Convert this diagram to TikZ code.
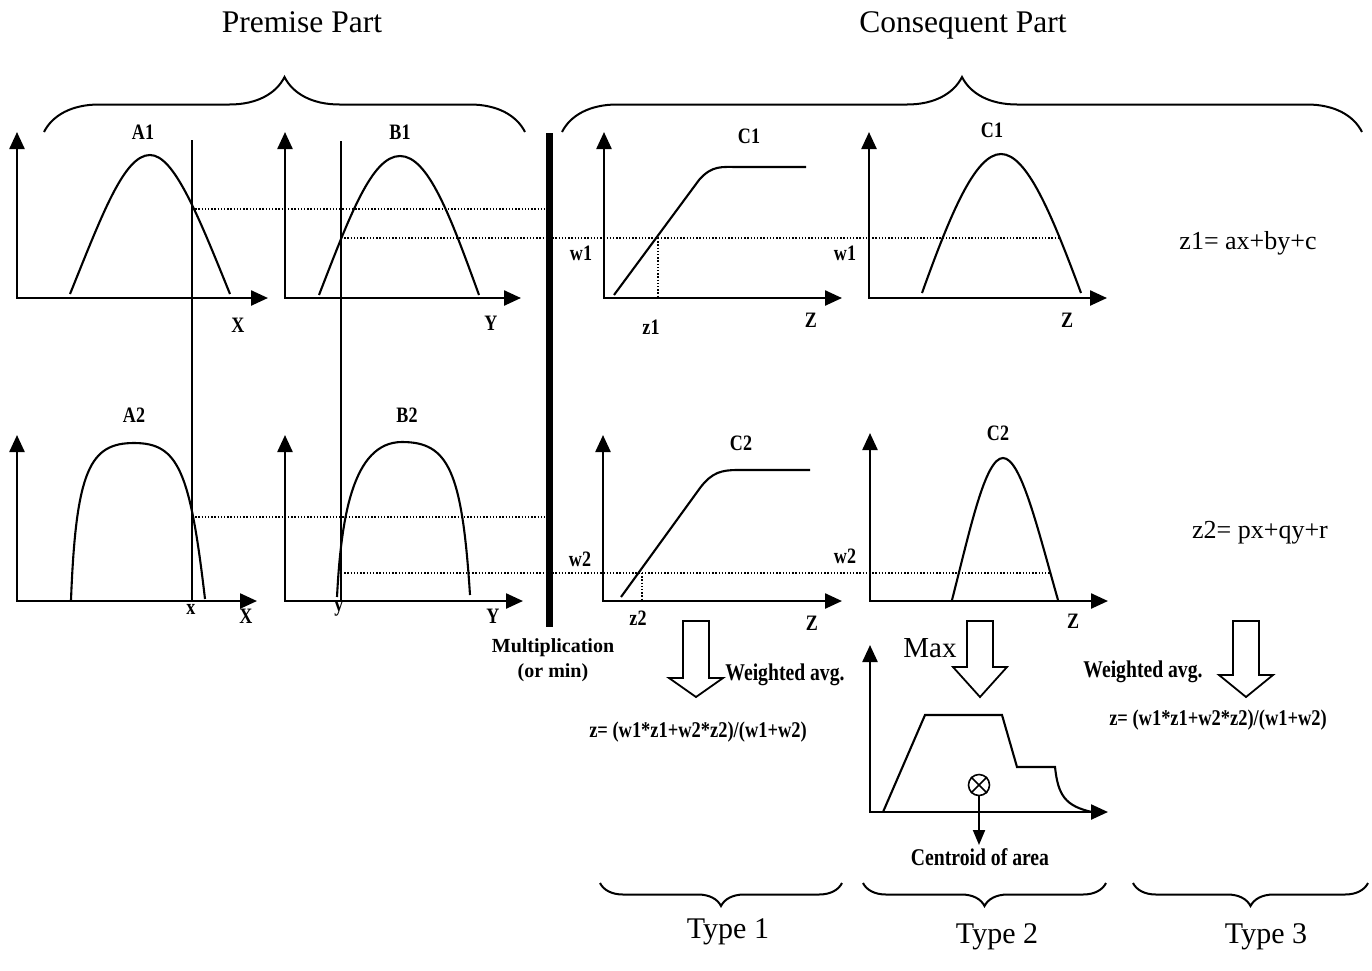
\documentclass[tikz,border=0pt]{standalone}
\usepackage{fontspec}
\setmainfont{Liberation Serif}
\newfontfamily\narrowfont{Liberation Serif}[FakeStretch=0.82]
\usetikzlibrary{arrows.meta,decorations.pathreplacing}

\tikzset{
  axes/.style={line width=2.4pt,
    {Triangle[length=17pt,width=15pt]}-{Triangle[length=17pt,width=15pt]}},
  mf/.style={line width=2.1pt},
  cutline/.style={line width=2pt},
  levelline/.style={line width=1.3pt, dash pattern=on 1.3pt off 1.9pt},
  curly/.style={line width=2pt, decorate, decoration={brace, amplitude=#1}},
  hollow/.style={line width=1.8pt, line join=miter},
  lbl/.style={font=\narrowfont\fontsize{22}{24}\selectfont\bfseries},
  axlbl/.style={font=\narrowfont\fontsize{22}{24}\selectfont\bfseries},
  heading/.style={font=\fontsize{31.5}{36}\selectfont, anchor=base},
  note/.style={font=\narrowfont\fontsize{24}{26}\selectfont\bfseries},
  formula/.style={font=\narrowfont\fontsize{22.5}{26}\selectfont\bfseries},
  eqn/.style={font=\fontsize{26}{30}\selectfont},
  kind/.style={font=\fontsize{30}{34}\selectfont, anchor=base},
}

\begin{document}
\begin{tikzpicture}[x=1pt,y=-1pt]
  \useasboundingbox (0,0) rectangle (1372,970);

  % axes of the panels: origin x / origin y / x tip / y tip
  \foreach \ox/\oy/\xt/\yt in {17/298/268/132, 285/298/521/132, 604/298/842/132,
      869/298/1107/132, 17/601/257/435, 285/601/523/435, 603/601/842/435,
      870/601/1108/433, 870/812/1108/645}
    \draw[axes] (\ox,\yt) -- (\ox,\oy) -- (\xt,\oy);

  % premise membership functions
  \draw[mf] (70,294) .. controls (102,215) and (124,155) .. (150,155)
    .. controls (174,155) and (198,215) .. (230,294);
  \draw[mf] (319,295) .. controls (350,215) and (372,156) .. (400,156)
    .. controls (428,156) and (450,215) .. (479,295);
  \draw[mf] (71,600) .. controls (76,470) and (90,443) .. (134,443)
    .. controls (178,443) and (190,470) .. (205,599);
  \draw[mf] (337,597) .. controls (341,520) and (352,442) .. (402,442)
    .. controls (448,442) and (462,470) .. (470,595);

  % consequent membership functions
  \draw[mf] (614,295) -- (699,180) .. controls (712,165) and (722,167) .. (738,167) -- (806,167);
  \draw[mf] (621,597) -- (700,488) .. controls (712,472) and (722,470) .. (738,470) -- (810,470);
  \draw[mf] (922,293) .. controls (950,215) and (975,154) .. (1001,154)
    .. controls (1027,154) and (1052,215) .. (1081,293);
  \draw[mf] (952,600) .. controls (970,530) and (985,458) .. (1003,458)
    .. controls (1021,458) and (1038,530) .. (1058,600);

  % aggregated output
  \draw[mf] (883,812) -- (925,715) -- (1002,715) -- (1017,767) -- (1055,767)
    .. controls (1058,795) and (1065,806) .. (1092,812);

  % crisp inputs and firing levels
  \coordinate (xin) at (192,601);
  \coordinate (yin) at (341,601);
  \coordinate (a1) at (192,209);
  \coordinate (b1) at (341,238);
  \coordinate (a2) at (192,517);
  \coordinate (b2) at (341,573);
  \draw[levelline] (a1) -- (546,209);
  \draw[levelline] (b1) -- (1060,238);
  \draw[levelline] (a2) -- (546,517);
  \draw[levelline] (b2) -- (1050,573);
  \draw[levelline] (658,238) -- (658,298);
  \draw[levelline] (642,573) -- (642,601);
  \draw[cutline] (192,140) -- (xin);
  \draw[cutline] (341,141) -- (yin);

  \draw[line width=7pt] (549,133) -- (549,627);

  % braces
  \draw[curly=55pt] (44,132) -- (525,132);
  \draw[curly=55pt] (562,132) -- (1362,132);
  \draw[curly=23pt] (842,883) -- (600,883);
  \draw[curly=23pt] (1106,883) -- (863,883);
  \draw[curly=23pt] (1368,883) -- (1133,883);

  % hollow arrows
  \foreach \ax/\by in {696/678, 980/667, 1246/675}
    \draw[hollow] (\ax-13,621) -- (\ax+13,621) -- (\ax+13,\by) -- (\ax+27,\by)
      -- (\ax,697) -- (\ax-27,\by) -- (\ax-13,\by) -- cycle;

  % centroid marker
  \node[circle, draw, line width=1.6pt, minimum size=21pt, inner sep=0pt] (cg) at (979,785) {};
  \draw[line width=1.6pt] (cg.north west) -- (cg.south east) (cg.north east) -- (cg.south west);
  \coordinate (cgend) at (979,845);
  \draw[line width=2pt, -{Triangle[length=15pt,width=12pt]}] (cg.south) -- (cgend);

  % headings
  \node[heading] (prem) at (302,32) {Premise Part};
  \node[heading] (cons) at (963,32) {Consequent Part};

  % panel names
  \node[lbl] (labA1) at (143,132) {A1};
  \node[lbl] (labB1) at (400,132) {B1};
  \node[lbl] (labC1) at (749,136) {C1};
  \node[lbl] (labC1r) at (992,130) {C1};
  \node[lbl] (labA2) at (134,415) {A2};
  \node[lbl] (labB2) at (407,415) {B2};
  \node[lbl] (labC2) at (741,443) {C2};
  \node[lbl] (labC2r) at (998,433) {C2};

  % axis names
  \node[axlbl] (ax1) at (238,325) {X};
  \node[axlbl] (ay1) at (491,323) {Y};
  \node[axlbl] (az1) at (811,320) {Z};
  \node[axlbl] (az1r) at (1067,320) {Z};
  \node[axlbl] (ax2) at (246,616) {X};
  \node[axlbl] (ay2) at (493,616) {Y};
  \node[axlbl] (az2) at (812,623) {Z};
  \node[axlbl] (az2r) at (1073,621) {Z};
  \node[lbl] (xval) at (191,609) {x};
  \node[lbl] (yval) at (339,609) {y};

  % weights and outputs
  \node[lbl] (w1l) at (581,253) {w1};
  \node[lbl] (w1r) at (845,253) {w1};
  \node[lbl] (z1l) at (651,327) {z1};
  \node[lbl] (w2l) at (580,559) {w2};
  \node[lbl] (w2r) at (845,556) {w2};
  \node[lbl] (z2l) at (638,618) {z2};

  \node[font=\fontsize{20}{25}\selectfont\bfseries, align=center] (mult) at (553,660)
    {Multiplication\\(or min)};
  \node[note] (wavg1) at (785,675) {Weighted avg.};
  \node[formula] (out1) at (698,732) {z= (w1*z1+w2*z2)/(w1+w2)};
  \node[font=\fontsize{29}{32}\selectfont] (max) at (930,648) {Max};
  \node[note] (cent) at (980,857) {Centroid of area};
  \node[note] (wavg3) at (1143,672) {Weighted avg.};
  \node[formula] (out3) at (1218,720) {z= (w1*z1+w2*z2)/(w1+w2)};
  \node[eqn] (rule1) at (1248,243) {z1= ax+by+c};
  \node[eqn] (rule2) at (1260,533) {z2= px+qy+r};

  \node[kind] (type1) at (728,938) {Type 1};
  \node[kind] (type2) at (997,943) {Type 2};
  \node[kind] (type3) at (1266,943) {Type 3};
\end{tikzpicture}
\end{document}
